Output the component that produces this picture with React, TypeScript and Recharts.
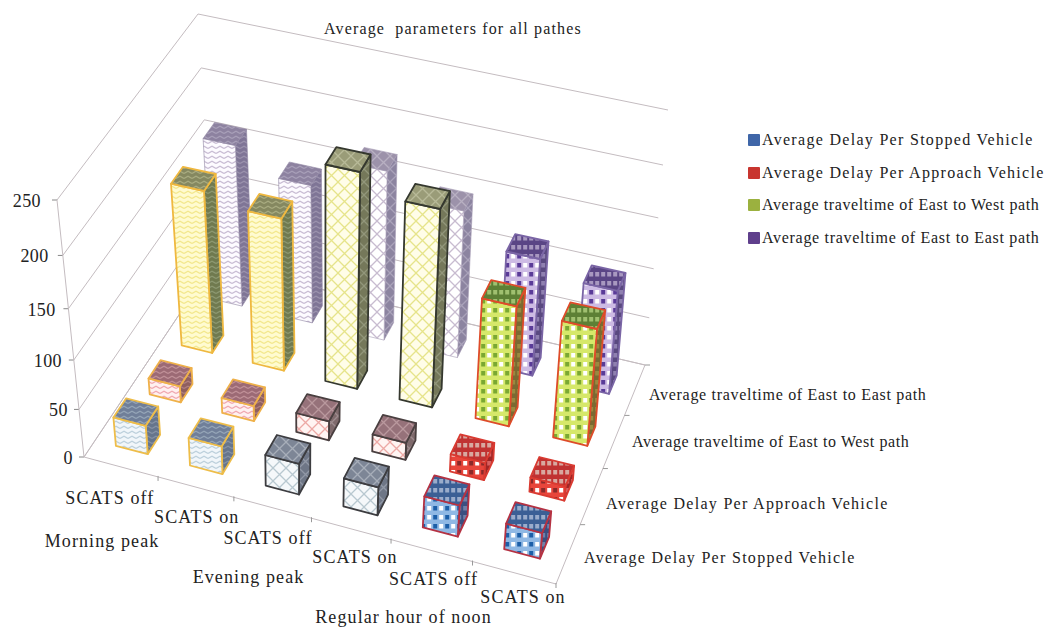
import React from 'react';
import { ScatterChart, Scatter, XAxis, YAxis, Legend } from 'recharts';

const WIDTH = 1045;
const HEIGHT = 628;
// the flat plot rectangle, which each shape then folds into the tilted box
const PLOT = { left: 84, top: 200, right: 555, bottom: 457 };
const PLOT_W = PLOT.right - PLOT.left;
const PLOT_H = PLOT.bottom - PLOT.top;

const title = 'Average  parameters for all pathes';
const scatsLabels = ['SCATS off', 'SCATS on', 'SCATS off', 'SCATS on', 'SCATS off', 'SCATS on'];
const periodLabels = ['Morning peak', 'Evening peak', 'Regular hour of noon'];
const seriesNames = [
  'Average Delay Per Stopped Vehicle',
  'Average Delay Per Approach Vehicle',
  'Average traveltime of East to West path',
  'Average traveltime of East to East path',
];
const nameSpacing = [1.3, 1.3, 0.6, 0.7];
const legendColors = ['#3f66a8', '#c8352f', '#9bb13f', '#5f3f8c'];
const valueTicks = [0, 50, 100, 150, 200, 250];

const stoppedDelay = [30, 29, 32, 29, 32, 26];
const approachDelay = [17, 16, 20, 18, 18, 15];
const eastWestTime = [165, 155, 215, 197, 122, 118];
const eastEastTime = [165, 142, 172, 150, 120, 106];
const seriesValues = [stoppedDelay, approachDelay, eastWestTime, eastEastTime];

const xTicks = scatsLabels.map((_, i) => i + 0.5);
const periodTicks = [1, 3, 5];

// ---- projection ----
type Pt = [number, number];

const quad = (p0: Pt, p1: Pt, p2: Pt, p3: Pt) => {
  const dx1 = p1[0] - p2[0];
  const dx2 = p3[0] - p2[0];
  const sx = p0[0] - p1[0] + p2[0] - p3[0];
  const dy1 = p1[1] - p2[1];
  const dy2 = p3[1] - p2[1];
  const sy = p0[1] - p1[1] + p2[1] - p3[1];
  const den = dx1 * dy2 - dx2 * dy1;
  const g = (sx * dy2 - dx2 * sy) / den;
  const h = (dx1 * sy - sx * dy1) / den;
  const a = p1[0] - p0[0] + g * p1[0];
  const b = p3[0] - p0[0] + h * p3[0];
  const d = p1[1] - p0[1] + g * p1[1];
  const e = p3[1] - p0[1] + h * p3[1];
  return (u: number, v: number): Pt => {
    const w = g * u + h * v + 1;
    return [(a * u + b * v + p0[0]) / w, (d * u + e * v + p0[1]) / w];
  };
};

// corners: front-left, front-right, back-right, back-left
const floorAt = quad([84, 457], [556, 584], [645, 365], [213, 264]);
const ceilAt = quad([57, 200], [579, 314], [668, 110], [198, 14]);

const project = (u: number, d: number, t: number): Pt => {
  const f = floorAt(u, d);
  const c = ceilAt(u, d);
  const k = t / (1 + 0.1 * (1 - t)); // heights stretch a bit towards the top
  return [f[0] + (c[0] - f[0]) * k, f[1] + (c[1] - f[1]) * k];
};

const toPoints = (pts: Pt[]) => pts.map((p) => `${p[0].toFixed(1)},${p[1].toFixed(1)}`).join(' ');
const uOf = (x: number) => (x - PLOT.left) / PLOT_W;
const tOf = (y: number) => (PLOT.bottom - y) / PLOT_H;

// ---- textures: [edge, frontBg, frontFg, topBg, topFg, sideBg, sideFg], by series then by group
const palettes: string[][][] = [
  [
    ['#eebd4a', '#f1f6fa', '#bdd0dc', '#6f7f99', '#95a5b7', '#66748c', '#8592a5'],
    ['#3c3c40', '#f5f8fa', '#b8c8d0', '#7d8696', '#a7aeb9', '#6e7686', '#9198a6'],
    ['#b53243', '#8fb8e4', '#1f5fa8', '#3a5f95', '#9aaccb', '#3a4f80', '#6f80a8'],
  ],
  [
    ['#efb14a', '#fff0f0', '#f0a8b0', '#9c6a74', '#c09098', '#8f5f5f', '#b08080'],
    ['#4a3f40', '#fff4f2', '#eda9a5', '#96727a', '#b9989d', '#7f6a6c', '#9e8c8e'],
    ['#d93a30', '#e8443a', '#8a2a2a', '#c03030', '#d8a8a0', '#a02828', '#d86060'],
  ],
  [
    ['#efb840', '#fffbd0', '#f3e88c', '#858860', '#a8ab80', '#6f7a50', '#8d9870'],
    ['#35382f', '#fffde8', '#e6e48a', '#9a9c78', '#b8ba98', '#74785a', '#92967a'],
    ['#de4c2a', '#d6e86a', '#7aa830', '#5d8034', '#a0c070', '#7a6a30', '#9a8a40'],
  ],
  [
    ['#9086a2', '#fdfbff', '#c9bdd4', '#8d82a0', '#a89fb8', '#7f7596', '#9b92ad'],
    ['#a59bb4', '#ffffff', '#c8bcd0', '#9c92aa', '#b8b0c2', '#8c84a0', '#aaa3ba'],
    ['#7a65a5', '#cdbbe4', '#5a3a98', '#5a4585', '#a898c0', '#5a4a80', '#8f80b0'],
  ],
];
const FACES = ['front', 'top', 'side'];

const Texture = ({ id, group, bg, fg, alt }: { id: string; group: number; bg: string; fg: string; alt: string }) => {
  if (group === 0) {
    return (
      <pattern id={id} width={8} height={5} patternUnits="userSpaceOnUse">
        <rect width={8} height={5} fill={bg} />
        <path d="M0 3.4 L4 1.2 L8 3.4" fill="none" stroke={fg} strokeWidth={1.3} />
      </pattern>
    );
  }
  if (group === 1) {
    return (
      <pattern id={id} width={13} height={13} patternUnits="userSpaceOnUse">
        <rect width={13} height={13} fill={bg} />
        <path d="M0 0 L13 13 M13 0 L0 13" fill="none" stroke={fg} strokeWidth={1.3} />
      </pattern>
    );
  }
  return (
    <pattern id={id} width={12} height={9} patternUnits="userSpaceOnUse">
      <rect width={12} height={9} fill={bg} />
      <rect x={1.2} y={2} width={4} height={4.5} fill={fg} />
      <rect x={7.2} y={2} width={4} height={4.5} fill={alt} />
    </pattern>
  );
};

const groupOf = (cat: number) => Math.floor(cat / 2);
const BAR_DU = 0.036;
const BAR_DD = 0.046;

const Box = (props: any, series: number) => {
  const { cx, cy } = props;
  const u = uOf(cx);
  const t = tOf(cy);
  const d = (series + 0.5) / 4;
  const group = groupOf(Math.floor(u * 6));
  const edge = palettes[series][group][0];
  const l = u - BAR_DU;
  const r = u + BAR_DU;
  const f = d - BAR_DD;
  const b = d + BAR_DD;
  const face = (name: string) => `url(#tx-${series}-${group}-${name})`;
  return (
    <g filter="url(#soft)" stroke={edge} strokeWidth={series === 3 && group < 2 ? 0.6 : 1.8} strokeLinejoin="round">
      <polygon points={toPoints([project(r, f, 0), project(r, b, 0), project(r, b, t), project(r, f, t)])} fill={face('side')} />
      <polygon points={toPoints([project(l, f, 0), project(r, f, 0), project(r, f, t), project(l, f, t)])} fill={face('front')} />
      <polygon points={toPoints([project(l, f, t), project(r, f, t), project(r, b, t), project(l, b, t)])} fill={face('top')} />
    </g>
  );
};

const serif = '"Liberation Serif", "Times New Roman", serif';
const labelStyle = { fontFamily: serif, fontSize: 16, letterSpacing: 0.75, fill: '#222222' };
const axisLabelStyle = { ...labelStyle, fontSize: 18, letterSpacing: 1.1 };
const LINE = '#c4bcc0';

// back walls with their value lines; the row's y comes from the value scale
const WallLine = (props: any) => {
  const t = tOf(props.cy);
  const p = project(0, 0, t);
  return (
    <g>
      <polyline points={toPoints([p, project(0, 1, t), project(1, 1, t)])} fill="none" stroke={LINE} strokeWidth={1} />
      <line x1={p[0] - 5} y1={p[1]} x2={p[0]} y2={p[1]} stroke="#888888" strokeWidth={1} />
    </g>
  );
};

const depthLabelPos: Pt[] = [[584, 563], [606, 509], [632, 447], [649, 400]];

const FloorFrame = () => {
  const corners: Pt[] = [project(0, 0, 1), project(0, 0, 0), project(1, 0, 0), project(1, 1, 0)];
  return (
    <g>
      <polyline points={toPoints(corners)} fill="none" stroke={LINE} strokeWidth={1} />
      <polyline points={toPoints([project(0, 0, 0), project(0, 1, 0), project(1, 1, 0)])} fill="none" stroke={LINE} strokeWidth={1} />
      {scatsLabels.map((_, i) => {
        const p = project((i + 1) / 6, 0, 0);
        return <line key={i} x1={p[0]} y1={p[1] - 1} x2={p[0]} y2={p[1] + 4} stroke="#999999" />;
      })}
      {seriesNames.map((name, j) => {
        const p = project(1, (j + 1) / 4, 0);
        return (
          <g key={name}>
            <line x1={p[0]} y1={p[1]} x2={p[0] + 5} y2={p[1]} stroke="#999999" />
            <text x={depthLabelPos[j][0]} y={depthLabelPos[j][1]} {...labelStyle} letterSpacing={nameSpacing[j]}>
              {name}
            </text>
          </g>
        );
      })}
    </g>
  );
};

// labels do not follow the edge exactly in the picture, these are their offsets from it
const scatsNudge: Pt[] = [[-11, 37], [1, 36], [-4.5, 36], [4, 34], [2, 34], [9, 30]];
const periodNudge: Pt[] = [[-56, 70], [-63, 65], [-69, 61]];

const ScatsTick = ({ x, index }: any) => {
  const p = project(uOf(x), 0, 0);
  return (
    <text x={p[0] + scatsNudge[index][0]} y={p[1] + scatsNudge[index][1]} textAnchor="middle" {...axisLabelStyle}>
      {scatsLabels[index]}
    </text>
  );
};

const PeriodTick = ({ x, index }: any) => {
  const p = project(uOf(x), 0, 0);
  return (
    <text x={p[0] + periodNudge[index][0]} y={p[1] + periodNudge[index][1]} textAnchor="middle" {...axisLabelStyle}>
      {periodLabels[index]}
    </text>
  );
};

const ValueTick = ({ y, payload }: any) => {
  const t = tOf(y);
  const p = project(0, 0, t);
  return (
    <text x={p[0] - 11 - 5 * t * t} y={p[1] + 7} textAnchor="end" {...axisLabelStyle} letterSpacing={0.4}>
      {payload.value}
    </text>
  );
};

const SeriesLegend = () => (
  <div style={{ fontFamily: serif, fontSize: 16, color: '#222222' }}>
    {seriesNames.map((name, i) => (
      <div key={name} style={{ height: 32.6, display: 'flex', alignItems: 'center', whiteSpace: 'nowrap', letterSpacing: nameSpacing[i] }}>
        <span style={{ width: 12, height: 12, background: legendColors[i], marginRight: 2, display: 'inline-block', borderRadius: 1 }} />
        {name}
      </div>
    ))}
  </div>
);

const wallRows = valueTicks.map((v) => ({ cat: 0, value: v }));
const frameRows = [{ cat: 0, value: 0 }];

export default function App() {
  return (
    <div style={{ position: 'absolute', left: 0, top: 0, width: WIDTH, height: HEIGHT, background: '#fff' }}>
      <ScatterChart
        width={WIDTH}
        height={HEIGHT}
        margin={{ top: PLOT.top, bottom: HEIGHT - PLOT.bottom - 2, left: PLOT.left - 1, right: WIDTH - PLOT.right }}
      >
        <defs>
          <filter id="soft">
            <feGaussianBlur stdDeviation={0.45} />
          </filter>
          {palettes.map((byGroup, s) =>
            byGroup.map((c, g) =>
              FACES.map((name, fi) => (
                <Texture
                  key={`${s}${g}${name}`}
                  id={`tx-${s}-${g}-${name}`}
                  group={g}
                  bg={c[1 + fi * 2]}
                  fg={c[2 + fi * 2]}
                  alt={fi === 0 ? '#ffffff' : c[2 + fi * 2]}
                />
              ))
            )
          )}
        </defs>
        <XAxis
          xAxisId={0}
          type="number"
          dataKey="cat"
          domain={[0, 6]}
          ticks={xTicks}
          interval={0}
          height={1}
          axisLine={false}
          tickLine={false}
          tick={<ScatsTick />}
        />
        <XAxis
          xAxisId="period"
          type="number"
          dataKey="cat"
          domain={[0, 6]}
          ticks={periodTicks}
          interval={0}
          height={1}
          axisLine={false}
          tickLine={false}
          tick={<PeriodTick />}
        />
        <YAxis
          type="number"
          dataKey="value"
          domain={[0, 250]}
          ticks={valueTicks}
          interval={0}
          width={1}
          axisLine={false}
          tickLine={false}
          tick={<ValueTick />}
        />
        <Legend
          layout="vertical"
          align="center"
          verticalAlign="middle"
          content={<SeriesLegend />}
          wrapperStyle={{ left: 748, top: 124, width: 297, height: 132 }}
        />
        <Scatter data={wallRows} shape={WallLine} isAnimationActive={false} legendType="none" />
        <Scatter xAxisId="period" data={frameRows} shape={FloorFrame} isAnimationActive={false} legendType="none" />
        {[3, 2, 1, 0].map((s) => (
          <Scatter
            key={seriesNames[s]}
            name={seriesNames[s]}
            data={seriesValues[s].map((value, i) => ({ cat: i + 0.5, value }))}
            shape={(p: any) => Box(p, s)}
            isAnimationActive={false}
          />
        ))}
        <text x={324} y={34} fontFamily={serif} fontSize={16} letterSpacing={1.15} fill="#222222" xmlSpace="preserve">
          {title}
        </text>
      </ScatterChart>
    </div>
  );
}
